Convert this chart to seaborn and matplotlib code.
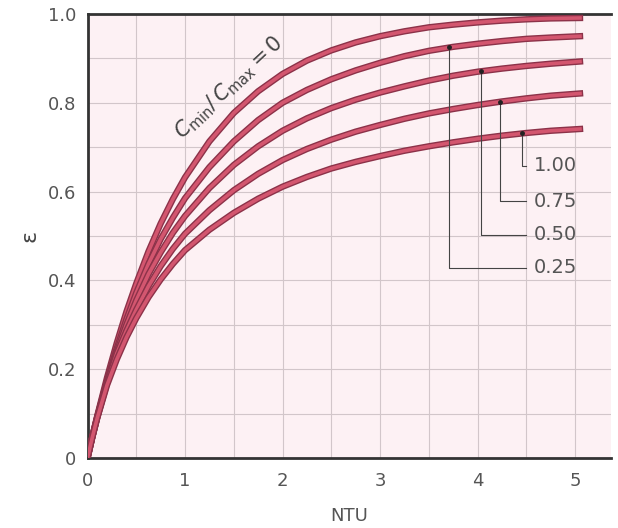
import numpy as np
import pandas as pd
import matplotlib
matplotlib.use("Agg")
import matplotlib.pyplot as plt
import matplotlib.patheffects as pe
import seaborn as sns

# values (effectiveness vs NTU for each Cmin/Cmax)
ntu = [0, 0.05, 0.1, 0.2, 0.3, 0.4, 0.5, 0.625, 0.75, 0.875, 1.0, 1.25, 1.5, 1.75,
       2.0, 2.25, 2.5, 2.75, 3.0, 3.25, 3.5, 3.75, 4.0, 4.25, 4.5, 4.75, 5.05]
eps_cr000 = [0, 0.049, 0.095, 0.181, 0.259, 0.330, 0.393, 0.465, 0.528, 0.583, 0.632, 0.713, 0.777, 0.826,
             0.865, 0.895, 0.918, 0.936, 0.950, 0.961, 0.970, 0.976, 0.981, 0.985, 0.988, 0.990, 0.991]
eps_cr025 = [0, 0.048, 0.093, 0.174, 0.247, 0.313, 0.372, 0.437, 0.493, 0.541, 0.585, 0.655, 0.713, 0.761,
             0.800, 0.829, 0.853, 0.873, 0.890, 0.905, 0.917, 0.926, 0.933, 0.939, 0.944, 0.947, 0.950]
eps_cr050 = [0, 0.048, 0.092, 0.171, 0.240, 0.301, 0.355, 0.414, 0.463, 0.507, 0.545, 0.608, 0.660, 0.702,
             0.737, 0.765, 0.788, 0.807, 0.823, 0.837, 0.850, 0.861, 0.870, 0.877, 0.883, 0.888, 0.893]
eps_cr075 = [0, 0.048, 0.091, 0.168, 0.235, 0.287, 0.334, 0.387, 0.432, 0.471, 0.505, 0.558, 0.603, 0.640,
             0.671, 0.696, 0.717, 0.735, 0.750, 0.764, 0.776, 0.786, 0.795, 0.803, 0.810, 0.816, 0.821]
eps_cr100 = [0, 0.047, 0.090, 0.164, 0.222, 0.272, 0.315, 0.362, 0.402, 0.437, 0.468, 0.514, 0.552, 0.584,
             0.611, 0.633, 0.652, 0.667, 0.680, 0.692, 0.702, 0.711, 0.719, 0.726, 0.732, 0.737, 0.741]

curve_names = ["0", "0.25", "0.50", "0.75", "1.00"]
label_names = ["0.25", "0.50", "0.75", "1.00"]
label_ntu = [3.71, 4.04, 4.23, 4.46]
label_eps = [0.429, 0.503, 0.578, 0.658]

curves = [eps_cr000, eps_cr025, eps_cr050, eps_cr075, eps_cr100]
df = pd.concat([pd.DataFrame({"NTU": ntu, "eps": c, "cr": n})
                for n, c in zip(curve_names, curves)])

fig = plt.figure(figsize=(6.18, 5.28), dpi=100)
ax = fig.add_axes([0.1416, 0.1326, 0.8474, 0.8409])
ax.set_facecolor("#fdf1f4")

# grid
for gx in np.arange(0.5, 5.4, 0.5):
    ax.axvline(gx, color="#d2c6ca", lw=0.8, zorder=0)
for gy in np.arange(0.1, 1.0, 0.1):
    ax.axhline(gy, color="#d2c6ca", lw=0.8, zorder=0)

for n in curve_names:
    sns.lineplot(data=df[df["cr"] == n], x="NTU", y="eps", ax=ax,
                 color="#d3566f", lw=2.6, zorder=3,
                 path_effects=[pe.Stroke(linewidth=4.6, foreground="#8c3249"), pe.Normal()])

# leader lines and labels
for name, lx, ly, c in zip(label_names, label_ntu, label_eps, curves[1:]):
    y0 = np.interp(lx, ntu, c)
    ax.plot([lx, lx, 4.5], [y0, ly, ly], color="#444444", lw=0.8, zorder=4)
    ax.plot([lx], [y0], "o", color="#222222", ms=2.5, zorder=5)
    ax.text(4.58, ly, name, ha="left", va="center", fontsize=14, color="#555555")

ax.text(1.45, 0.835, r"$C_{\mathrm{min}}/\,C_{\mathrm{max}} = 0$", rotation=43,
        ha="center", va="center", fontsize=15, color="#444444")

ax.set_xlim(0, 5.37)
ax.set_ylim(0, 1.0)
ax.set_xticks([0, 1, 2, 3, 4, 5])
ax.set_xticklabels(["0", "1", "2", "3", "4", "5"])
ax.set_yticks([0, 0.2, 0.4, 0.6, 0.8, 1.0])
ax.set_yticklabels(["0", "0.2", "0.4", "0.6", "0.8", "1.0"])
ax.tick_params(length=0, labelsize=13, labelcolor="#555555")
ax.tick_params(axis="x", pad=10)
ax.tick_params(axis="y", pad=8)
ax.set_xlabel("NTU", fontsize=13, color="#555555", labelpad=12)
ax.set_ylabel("ε", fontsize=16, color="#444444")
ax.yaxis.set_label_coords(-0.092, 0.5)

for s in ["left", "bottom", "top"]:
    ax.spines[s].set_color("#333333")
    ax.spines[s].set_linewidth(2)
ax.spines["right"].set_visible(False)

fig.savefig("out.png", dpi=100)
